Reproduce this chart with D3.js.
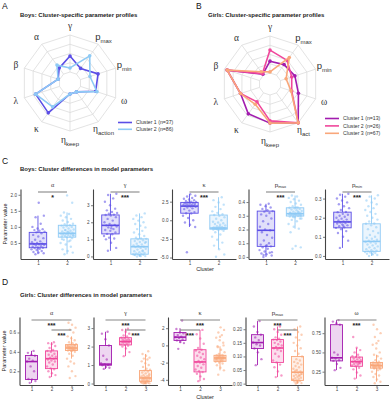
<!DOCTYPE html>
<html>
<head>
<meta charset="utf-8">
<script src="https://cdn.jsdelivr.net/npm/d3@7"></script>
<style>
body { margin: 0; background: #fff; }
svg { display: block; font-family: "Liberation Sans", Arial, sans-serif; }
</style>
</head>
<body>
<svg id="fig" width="391" height="400"></svg>
<script>
// ---- radar profiles (0 = inner ring, 1 = outer ring) ----
var boysAxes = ["γ", "p_max", "p_min", "ω", "η_action", "η_keep", "κ", "λ", "β", "α"];
var girlsAxes = ["γ", "p_max", "p_min", "ω", "η_act", "η_keep", "κ", "λ", "β", "α"];
var boysProfile1 = [0.43, 0.19, 0.50, 0.43, 0.00, 0.00, 0.70, 0.68, 0.04, 0.20];
var boysProfile2 = [0.11, 0.61, 0.27, 0.47, 0.00, 0.00, 0.50, 0.68, 0.04, 0.30];
var girlsProfile1 = [0.32, 0.35, 0.41, 0.51, 1.00, 0.76, 0.70, 0.54, 0.92, 0.03];
var girlsProfile2 = [0.62, 0.49, 0.32, 0.32, 1.00, 0.70, 0.30, 0.54, 0.92, 0.05];
var girlsProfile3 = [0.03, 0.59, 0.16, 0.30, 1.00, 0.76, 0.38, 0.54, 0.92, 0.11];
var boysLegend = ["Cluster 1 (n=37)", "Cluster 2 (n=86)"];
var girlsLegend = ["Cluster 1 (n=13)", "Cluster 2 (n=26)", "Cluster 3 (n=67)"];

// ---- box panels ----
var boysParams = ["α", "γ", "κ", "p_max", "p_min"];
var girlsParams = ["α", "γ", "κ", "p_max", "ω"];

// box stats per cluster: [whisker low, q1, median, q3, whisker high]
var boysAlphaBox = [[0.15, 0.35, 0.47, 0.83, 1.35], [0.15, 0.68, 0.80, 1.05, 1.45]];
var boysGammaBox = [[0.33, 1.32, 1.82, 2.43, 3.67], [0.00, 0.13, 0.57, 1.03, 2.52]];
var boysKappaBox = [[-0.9, 0.95, 1.9, 2.4, 3.5], [-3.9, -1.2, -1.05, 0.7, 3.1]];
var boysPmaxBox = [[0.0, 0.077, 0.194, 0.334, 0.387], [0.206, 0.298, 0.315, 0.358, 0.448]];
var boysPminBox = [[0.042, 0.147, 0.178, 0.229, 0.325], [0.0, 0.024, 0.076, 0.168, 0.317]];

var girlsAlphaBox = [[0.08, 0.115, 0.30, 0.363, 0.41], [0.14, 0.227, 0.33, 0.41, 0.50], [0.33, 0.414, 0.44, 0.475, 0.56]];
var girlsGammaBox = [[0.79, 0.99, 1.05, 2.06, 2.8], [1.48, 2.09, 2.27, 2.48, 2.97], [0.0, 0.12, 0.30, 0.70, 1.6]];
var girlsKappaBox = [[0.27, 0.58, 0.96, 1.5, 2.0], [-4.15, -3.08, -1.92, -0.5, 1.8], [-2.9, -1.85, -1.46, -1.15, -0.1]];
var girlsPmaxBox = [[0.068, 0.129, 0.151, 0.18, 0.23], [0.024, 0.078, 0.131, 0.162, 0.21], [0.0, 0.012, 0.042, 0.10, 0.21]];
var girlsOmegaBox = [[0.27, 0.39, 0.43, 0.86, 0.92], [0.16, 0.32, 0.38, 0.44, 0.56], [0.12, 0.296, 0.33, 0.37, 0.47]];

// individual values per cluster
var boysAlphaPts = [
  [0.15,0.18,0.2,0.22,0.25,0.28,0.3,0.32,0.34,0.35,0.36,0.38,0.4,0.42,0.44,0.46,0.47,0.48,0.5,0.52,0.55,0.6,0.65,0.7,0.75,0.8,0.83,0.85,0.88,0.9,0.93,0.95,1.0,1.1,1.3,1.35,1.75],
  [0.15,0.2,0.25,0.3,0.38,0.45,0.5,0.55,0.6,0.65,0.68,0.7,0.7,0.72,0.73,0.75,0.76,0.77,0.78,0.79,0.8,0.8,0.82,0.84,0.86,0.88,0.9,0.92,0.95,0.98,1.0,1.02,1.04,1.05,1.08,1.1,1.15,1.2,1.25,1.3,1.35,1.4,1.45,1.75,1.98,0.62,0.58,0.9,0.74,0.85]
];
var boysGammaPts = [
  [0.33,0.5,0.8,1.0,1.05,1.1,1.2,1.3,1.32,1.4,1.5,1.55,1.6,1.7,1.75,1.8,1.82,1.85,1.9,2.0,2.1,2.2,2.3,2.4,2.43,2.45,2.5,2.55,2.6,2.7,2.8,3.0,3.2,3.4,3.6,3.67,1.65],
  [0.0,0.02,0.05,0.08,0.1,0.12,0.13,0.15,0.18,0.2,0.25,0.3,0.35,0.4,0.45,0.5,0.55,0.57,0.6,0.65,0.7,0.75,0.8,0.85,0.9,0.95,1.0,1.03,1.05,1.1,1.2,1.3,1.4,1.5,1.6,1.7,1.8,1.9,2.0,2.1,2.2,2.3,2.4,2.52,0.05,0.1,0.3,0.62,0.85,0.02]
];
var boysKappaPts = [
  [-4.3,-0.9,-0.6,-0.3,0.0,0.3,0.6,0.9,0.95,1.1,1.3,1.5,1.6,1.7,1.8,1.85,1.9,1.95,2.0,2.05,2.1,2.15,2.2,2.25,2.3,2.35,2.4,2.45,2.5,2.6,2.7,2.8,2.9,3.0,3.2,3.3,3.5],
  [-4.9,-4.6,-3.9,-3.4,-3.0,-2.6,-2.2,-1.9,-1.6,-1.4,-1.3,-1.25,-1.2,-1.18,-1.15,-1.12,-1.1,-1.1,-1.08,-1.06,-1.05,-1.04,-1.02,-1.0,-0.95,-0.9,-0.8,-0.7,-0.6,-0.5,-0.4,-0.3,-0.2,0.0,0.2,0.4,0.6,0.7,0.8,1.0,1.2,1.5,1.8,2.1,2.4,2.7,3.1,-1.13,-1.07,-0.85]
];
var boysPmaxPts = [
  [0.0,0.01,0.02,0.025,0.03,0.04,0.05,0.06,0.07,0.077,0.08,0.09,0.1,0.12,0.14,0.16,0.18,0.194,0.2,0.22,0.24,0.26,0.28,0.3,0.31,0.32,0.33,0.334,0.34,0.35,0.36,0.37,0.38,0.387,0.015,0.035,0.085],
  [0.06,0.07,0.08,0.18,0.206,0.22,0.24,0.26,0.27,0.28,0.29,0.295,0.298,0.3,0.302,0.305,0.307,0.31,0.31,0.312,0.315,0.315,0.318,0.32,0.322,0.325,0.33,0.335,0.34,0.345,0.35,0.355,0.358,0.36,0.37,0.38,0.39,0.4,0.41,0.42,0.43,0.44,0.448,0.3,0.31,0.32,0.33,0.29,0.28,0.36]
];
var boysPminPts = [
  [0.042,0.08,0.1,0.12,0.13,0.14,0.147,0.15,0.155,0.16,0.165,0.17,0.172,0.175,0.178,0.18,0.185,0.19,0.195,0.2,0.205,0.21,0.215,0.22,0.229,0.23,0.24,0.25,0.26,0.27,0.28,0.29,0.3,0.31,0.32,0.325,0.158],
  [0.0,0.005,0.01,0.012,0.015,0.018,0.02,0.022,0.024,0.028,0.03,0.035,0.04,0.045,0.05,0.055,0.06,0.065,0.07,0.073,0.076,0.08,0.085,0.09,0.095,0.1,0.11,0.12,0.13,0.14,0.15,0.16,0.168,0.17,0.18,0.19,0.2,0.21,0.22,0.23,0.24,0.25,0.26,0.27,0.28,0.29,0.3,0.31,0.317,0.008]
];

var girlsAlphaPts = [
  [0.08,0.1,0.115,0.12,0.2,0.25,0.3,0.31,0.33,0.36,0.37,0.39,0.41],
  [0.14,0.16,0.18,0.2,0.22,0.23,0.25,0.27,0.29,0.3,0.31,0.32,0.33,0.34,0.35,0.36,0.37,0.38,0.4,0.41,0.42,0.44,0.46,0.48,0.49,0.5],
  [0.13,0.15,0.2,0.25,0.28,0.3,0.33,0.36,0.38,0.4,0.41,0.414,0.42,0.425,0.43,0.43,0.435,0.44,0.44,0.445,0.45,0.45,0.455,0.46,0.465,0.47,0.475,0.48,0.49,0.5,0.52,0.54,0.56,0.6,0.63,0.65,0.68,0.7,0.42,0.44,0.46,0.43,0.45,0.47,0.41]
];
var girlsGammaPts = [
  [0.79,0.85,0.9,0.99,1.0,1.05,1.1,1.3,1.5,2.06,2.4,2.7,2.8],
  [1.48,1.7,1.9,2.0,2.05,2.09,2.12,2.15,2.2,2.22,2.25,2.27,2.28,2.3,2.33,2.35,2.38,2.4,2.45,2.48,2.55,2.6,2.7,2.8,2.9,2.97],
  [0.0,0.01,0.02,0.03,0.05,0.06,0.08,0.1,0.12,0.13,0.15,0.18,0.2,0.22,0.25,0.27,0.3,0.32,0.35,0.38,0.4,0.45,0.5,0.55,0.6,0.65,0.7,0.75,0.8,0.9,1.0,1.1,1.2,1.3,1.35,1.4,1.5,1.6,1.75,0.04,0.07,0.14,0.28,0.42,0.02]
];
var girlsKappaPts = [
  [-0.4,0.27,0.4,0.58,0.7,0.85,0.96,1.0,1.2,1.4,1.5,1.9,2.9],
  [-4.15,-3.9,-3.6,-3.3,-3.1,-3.0,-2.8,-2.6,-2.4,-2.2,-2.0,-1.95,-1.9,-1.8,-1.6,-1.4,-1.2,-1.0,-0.8,-0.6,-0.5,-0.3,0.2,0.8,1.3,1.8],
  [-3.4,-2.9,-2.6,-2.3,-2.1,-2.0,-1.9,-1.85,-1.8,-1.75,-1.7,-1.65,-1.6,-1.55,-1.5,-1.48,-1.46,-1.44,-1.4,-1.38,-1.35,-1.3,-1.25,-1.2,-1.15,-1.1,-1.0,-0.8,-0.5,-0.1,0.3,0.6,0.9,1.2,1.5,1.8,2.1,-1.52,-1.42,-1.32,-1.62,-1.72,-0.2,0.0,1.0]
];
var girlsPmaxPts = [
  [0.068,0.09,0.115,0.129,0.14,0.145,0.151,0.16,0.17,0.18,0.19,0.21,0.23],
  [0.024,0.03,0.045,0.06,0.07,0.078,0.085,0.1,0.11,0.12,0.125,0.13,0.131,0.135,0.14,0.145,0.15,0.155,0.16,0.162,0.165,0.17,0.18,0.19,0.2,0.21],
  [0.0,0.002,0.005,0.008,0.01,0.012,0.015,0.018,0.02,0.022,0.025,0.028,0.03,0.033,0.036,0.04,0.042,0.045,0.05,0.055,0.06,0.065,0.07,0.075,0.08,0.085,0.09,0.1,0.11,0.12,0.13,0.14,0.15,0.16,0.17,0.18,0.19,0.2,0.21,0.004,0.014,0.03,0.048,0.035,0.01]
];
var girlsOmegaPts = [
  [0.27,0.3,0.35,0.39,0.4,0.42,0.43,0.47,0.5,0.86,0.88,0.9,0.92],
  [0.16,0.2,0.24,0.28,0.3,0.32,0.33,0.34,0.35,0.36,0.37,0.38,0.38,0.39,0.4,0.41,0.42,0.43,0.44,0.45,0.47,0.5,0.53,0.56,0.7,0.36],
  [0.1,0.12,0.15,0.18,0.2,0.22,0.25,0.27,0.29,0.296,0.3,0.31,0.315,0.32,0.325,0.33,0.33,0.335,0.34,0.345,0.35,0.355,0.36,0.365,0.37,0.38,0.4,0.42,0.45,0.47,0.5,0.55,0.6,0.65,0.7,0.75,0.8,0.86,0.31,0.32,0.34,0.35,0.3,0.28,0.62]
];

// axis limits and tick labels
var boysLimits = [[0.0, 2.18], [-0.15, 3.95], [-5.2, 4.2], [-0.015, 0.495], [-0.016, 0.35]];
var boysTicks = [[0.5, 1, 1.5, 2], [0, 1, 2, 3], [-5, -2.5, 0, 2.5], [0, 0.1, 0.2, 0.3, 0.4], [0, 0.1, 0.2, 0.3]];
var girlsLimits = [[0.058, 0.76], [-0.08, 3.6], [-4.6, 3.3], [-0.005, 0.245], [0.077, 0.96]];
var girlsTicks = [[0.2, 0.4, 0.6], [0, 1, 2, 3], [-4, -2, 0, 2], [0, 0.05, 0.1, 0.15, 0.2], [0.25, 0.5, 0.75]];

// significance: [cluster a, cluster b, label, level]
var boysSig = [[[1, 2, "*", 0]], [[1, 2, "***", 0]], [[1, 2, "***", 0]], [[1, 2, "***", 0]], [[1, 2, "***", 0]]];
var girlsSig = [
  [[1, 3, "***", 0], [2, 3, "***", 1]],
  [[1, 3, "***", 0], [2, 3, "***", 1]],
  [[1, 3, "***", 0], [1, 2, "***", 1]],
  [[1, 3, "***", 0], [2, 3, "***", 1]],
  [[1, 3, "***", 0]]
];

var boysColors = ["#5b4ee6", "#8ecaf5"];
var girlsColors = ["#a21caf", "#f0479b", "#f9a77a"];

var svg = d3.select("#fig");
svg.append("rect").attr("width", 391).attr("height", 400).attr("fill", "#fff");

// text with optional subscript written as "base_sub"
function richText(sel, str, size, subSize) {
  var parts = str.split("_");
  var greek = /[α-ωΑ-Ω]/.test(parts[0]);
  sel.append("tspan")
    .attr("font-family", greek ? "'Liberation Serif', 'DejaVu Serif', serif" : null)
    .attr("font-size", size)
    .text(parts[0]);
  if (parts[1]) {
    sel.append("tspan").attr("font-size", subSize).attr("dy", subSize * 0.45).text(parts[1]);
  }
}

function panelLetter(x, y, t) {
  svg.append("text").attr("x", x).attr("y", y).attr("font-size", 8.5).attr("fill", "#111").text(t);
}
function title(x, y, t) {
  svg.append("text").attr("x", x).attr("y", y).attr("font-size", 6).attr("font-weight", "bold").attr("fill", "#222").text(t);
}

function drawRadar(cx, cy, axes, profiles, colors, legend, legX, legY, legStep) {
  var g = svg.append("g").attr("transform", "translate(" + cx + "," + cy + ")");
  var r = d3.scaleLinear().domain([0, 1]).range([11, 48]);
  var n = axes.length;
  var pt = function(i, v) {
    var a = i * 2 * Math.PI / n;
    return [r(v) * Math.sin(a), -r(v) * Math.cos(a)];
  };
  var line = d3.line();

  [0, 0.25, 0.5, 0.75, 1].forEach(function(lv) {
    g.append("path")
      .attr("d", line(d3.range(n + 1).map(function(i) { return pt(i % n, lv); })))
      .attr("fill", "none").attr("stroke", "#dcdcdc").attr("stroke-width", 0.8);
  });
  axes.forEach(function(a, i) {
    var p0 = pt(i, 0), p1 = pt(i, 1);
    g.append("line").attr("x1", p0[0]).attr("y1", p0[1]).attr("x2", p1[0]).attr("y2", p1[1])
      .attr("stroke", "#dcdcdc").attr("stroke-width", 0.8);
    var ang = i * 2 * Math.PI / n;
    var lx = 57 * Math.sin(ang), ly = -57 * Math.cos(ang);
    var t = g.append("text").attr("x", lx).attr("y", ly + 3).attr("text-anchor", "middle").attr("fill", "#333");
    richText(t, a, 9.5, 6);
  });

  profiles.forEach(function(p, k) {
    var pts = p.map(function(v, i) { return pt(i, v); });
    g.append("path").attr("d", line(pts.concat([pts[0]])))
      .attr("fill", "none").attr("stroke", colors[k]).attr("stroke-width", 1.6).attr("stroke-linejoin", "round");
    g.selectAll(null).data(pts).enter().append("circle")
      .attr("cx", function(d) { return d[0]; }).attr("cy", function(d) { return d[1]; })
      .attr("r", 1.8).attr("fill", colors[k]);
  });

  legend.forEach(function(l, k) {
    var yy = legY + k * legStep;
    svg.append("line").attr("x1", legX).attr("x2", legX + 14).attr("y1", yy).attr("y2", yy)
      .attr("stroke", colors[k]).attr("stroke-width", 1.6);
    svg.append("text").attr("x", legX + 18).attr("y", yy + 1.8).attr("font-size", 5.2).attr("fill", "#333").text(l);
  });
}

function fmtFor(ticks) {
  var dec = d3.max(ticks, function(t) {
    var s = String(t).split(".")[1];
    return s ? s.length : 0;
  });
  return function(v) { return d3.format("." + dec + "f")(v).replace("−", "-"); };
}

function drawBoxPanel(left, top, bottom, param, box, pts, limits, ticks, fmt, sig, colors) {
  var n = box.length;
  var x = d3.scaleLinear().domain([0.4, n + 0.6]).range([left, left + 64]);
  var y = d3.scaleLinear().domain(limits).range([bottom, top]);
  var unit = x(1) - x(0);
  var g = svg.append("g");

  var ya = g.append("g").attr("transform", "translate(" + left + ",0)")
    .call(d3.axisLeft(y).tickValues(ticks).tickFormat(fmt).tickSize(2).tickSizeOuter(0).tickPadding(1.5));
  var xa = g.append("g").attr("transform", "translate(0," + bottom + ")")
    .call(d3.axisBottom(x).tickValues(d3.range(1, n + 1)).tickFormat(d3.format("d")).tickSize(2).tickSizeOuter(0).tickPadding(1));
  [ya, xa].forEach(function(a) {
    a.select(".domain").attr("stroke", "#444").attr("stroke-width", 1.1);
    a.selectAll(".tick line").attr("stroke", "#444").attr("stroke-width", 0.7);
    a.selectAll(".tick text").attr("font-size", 4.6).attr("fill", "#444")
      .attr("font-family", "'Liberation Sans', Arial, sans-serif");
  });

  var st = g.append("text").attr("x", left + 32).attr("y", top - 2.5).attr("text-anchor", "middle").attr("fill", "#333");
  richText(st, param, 6.2, 4.2);

  box.forEach(function(b, k) {
    var cx = x(k + 1), hw = 0.3 * unit, c = colors[k];
    g.append("line").attr("x1", cx).attr("x2", cx).attr("y1", y(b[0])).attr("y2", y(b[1])).attr("stroke", c).attr("stroke-width", 0.9);
    g.append("line").attr("x1", cx).attr("x2", cx).attr("y1", y(b[3])).attr("y2", y(b[4])).attr("stroke", c).attr("stroke-width", 0.9);
    g.append("rect").attr("x", cx - hw).attr("width", 2 * hw).attr("y", y(b[3])).attr("height", y(b[1]) - y(b[3]))
      .attr("fill", c).attr("fill-opacity", 0.18).attr("stroke", c).attr("stroke-width", 0.9);
    g.append("line").attr("x1", cx - hw).attr("x2", cx + hw).attr("y1", y(b[2])).attr("y2", y(b[2]))
      .attr("stroke", c).attr("stroke-width", 1.6);
  });

  pts.forEach(function(arr, k) {
    g.selectAll(null).data(arr).enter().append("circle")
      .attr("cx", function(d, i) { return x(k + 1) + (((i * 0.6180339887 + 0.31) % 1) - 0.5) * 0.46 * unit; })
      .attr("cy", function(d) { return y(d); })
      .attr("r", 1.2).attr("fill", colors[k]).attr("fill-opacity", 0.55);
  });

  sig.forEach(function(s) {
    var yy = top + (s[3] ? 13 : 3);
    g.append("line").attr("x1", x(s[0])).attr("x2", x(s[1])).attr("y1", yy).attr("y2", yy)
      .attr("stroke", "#888").attr("stroke-width", 1.1);
    g.append("text").attr("x", (x(s[0]) + x(s[1])) / 2).attr("y", yy + 7.5).attr("text-anchor", "middle")
      .attr("font-size", 7).attr("font-weight", "bold").attr("fill", "#222").text(s[2]);
  });
}

// ---- A & B ----
panelLetter(2, 9, "A");
title(20, 16.5, "Boys: Cluster-specific parameter profiles");
drawRadar(70, 83, boysAxes, [boysProfile1, boysProfile2], boysColors, boysLegend, 118, 122.5, 6.8);

panelLetter(196, 9, "B");
title(208, 16.5, "Girls: Cluster-specific parameter profiles");
drawRadar(270, 84, girlsAxes, [girlsProfile1, girlsProfile2, girlsProfile3], girlsColors, girlsLegend, 325, 118.5, 7.4);

// ---- C ----
panelLetter(2, 164, "C");
title(20, 170.5, "Boys: Cluster differences in model parameters");
var boysBoxes = [boysAlphaBox, boysGammaBox, boysKappaBox, boysPmaxBox, boysPminBox];
var boysPts = [boysAlphaPts, boysGammaPts, boysKappaPts, boysPmaxPts, boysPminPts];
var cLefts = [20.5, 93, 172, 248.5, 325];
boysParams.forEach(function(p, i) {
  drawBoxPanel(cLefts[i], 189, 259, p, boysBoxes[i], boysPts[i], boysLimits[i], boysTicks[i], fmtFor(boysTicks[i]), boysSig[i], boysColors);
});

// ---- D ----
panelLetter(2, 285, "D");
title(20, 296.5, "Girls: Cluster differences in model parameters");
var girlsBoxes = [girlsAlphaBox, girlsGammaBox, girlsKappaBox, girlsPmaxBox, girlsOmegaBox];
var girlsPts = [girlsAlphaPts, girlsGammaPts, girlsKappaPts, girlsPmaxPts, girlsOmegaPts];
var dLefts = [19.5, 93.5, 168, 245.5, 324.5];
girlsParams.forEach(function(p, i) {
  drawBoxPanel(dLefts[i], 317, 385, p, girlsBoxes[i], girlsPts[i], girlsLimits[i], girlsTicks[i], fmtFor(girlsTicks[i]), girlsSig[i], girlsColors);
});

// shared axis titles
[[224, 270.5, 7], [351, 398.5, 6]].forEach(function(d) {
  svg.append("text").attr("transform", "translate(" + d[2] + "," + d[0] + ") rotate(-90)").attr("text-anchor", "middle")
    .attr("font-size", 5.6).attr("fill", "#222").text("Parameter value");
  svg.append("text").attr("x", 205).attr("y", d[1]).attr("text-anchor", "middle")
    .attr("font-size", 5.6).attr("fill", "#222").text("Cluster");
});
</script>
</body>
</html>
